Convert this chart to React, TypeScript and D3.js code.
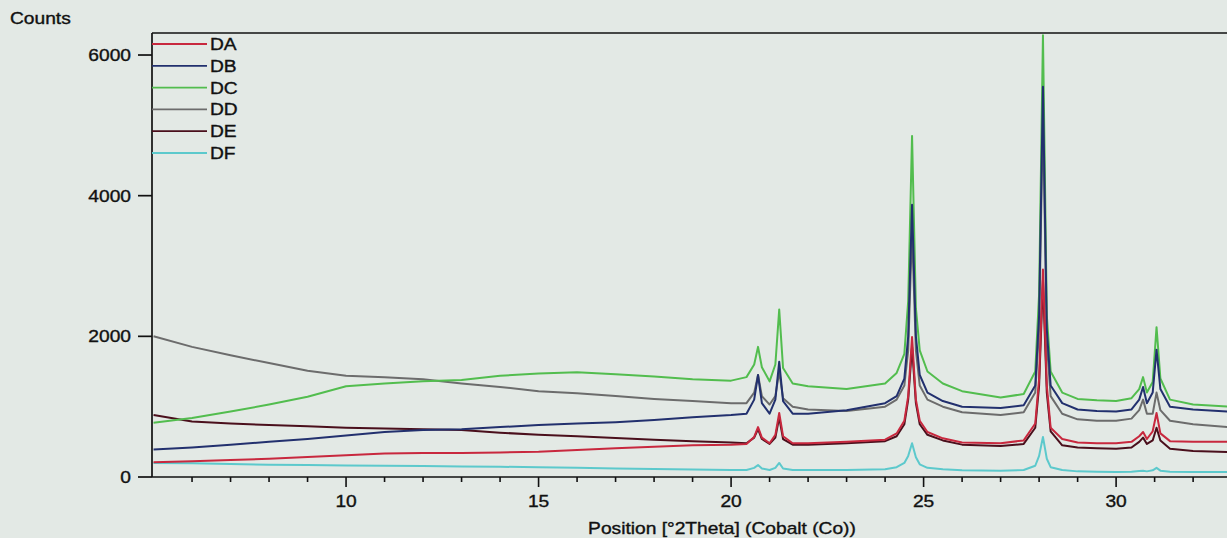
import * as React from 'react';
import * as d3 from 'd3';

// 2-theta positions (deg) shared by all patterns
const twoTheta = [
    5, 6, 7, 8, 9, 10, 11, 12, 13, 14, 15, 16, 17, 18, 19, 20,
    20.4, 20.6, 20.7, 20.8, 21.0, 21.15, 21.25, 21.35, 21.6,
    22, 23, 24,
    24.3, 24.5, 24.6, 24.7, 24.8, 24.9, 25.1, 25.5,
    26, 27,
    27.6, 27.9, 28.0, 28.1, 28.2, 28.3, 28.6,
    29, 29.5, 30,
    30.4, 30.6, 30.7, 30.8, 30.95, 31.05, 31.15, 31.4,
    32, 32.9,
];

const countsDA = [
    210, 225, 240, 260, 285, 310, 335, 340, 340, 350, 360, 385, 410, 430, 450, 460,
    470, 570, 710, 560, 480, 600, 910, 580, 480,
    480, 500, 530,
    620, 800, 1150, 1990, 1100, 800, 640, 550,
    490, 480,
    520, 760, 1400, 2950, 1300, 700, 540,
    490, 480, 480,
    500, 580, 640, 540, 650, 910, 620, 510,
    500, 500,
];

const countsDB = [
    390, 420, 460, 500, 540, 590, 640, 670, 680, 710, 740, 760, 780, 810, 850, 880,
    900, 1100, 1450, 1050, 900, 1100, 1640, 1080, 900,
    900, 950, 1050,
    1150, 1400, 2000, 3870, 2000, 1450, 1200, 1080,
    1000, 980,
    1020, 1300, 2300, 5550, 2100, 1300, 1050,
    960, 940, 930,
    960, 1100, 1280, 1050, 1200, 1810, 1250, 1000,
    960, 930,
];

const countsDC = [
    770, 840, 930, 1030, 1140, 1290, 1330, 1360, 1380, 1440, 1470, 1490, 1460, 1430, 1390, 1370,
    1420, 1600, 1850, 1560, 1360, 1600, 2380, 1550, 1330,
    1290, 1250, 1330,
    1480, 1750, 2500, 4850, 2400, 1800, 1500, 1330,
    1220, 1130,
    1180, 1500, 2600, 6280, 2300, 1500, 1200,
    1110, 1090, 1080,
    1120, 1250, 1420, 1200, 1350, 2130, 1400, 1100,
    1030, 1000,
];

const countsDD = [
    2000, 1850, 1730, 1620, 1510, 1440, 1420, 1390, 1330, 1280, 1220, 1190, 1150, 1110, 1080, 1050,
    1050, 1200, 1450, 1150, 1030, 1150, 1500, 1120, 1000,
    960, 940, 1000,
    1100, 1300, 1800, 3500, 1800, 1300, 1100, 1000,
    920, 880,
    920, 1200, 2100, 5200, 1900, 1150, 900,
    820, 800, 800,
    830, 950, 1100, 900, 900, 1200, 950, 800,
    750, 710,
];

const countsDE = [
    880, 790, 760, 740, 720, 700, 690, 680, 670, 630, 600, 580, 555, 530, 510, 490,
    480, 560, 680, 540, 470, 560, 850, 540, 460,
    460, 480, 510,
    580, 750, 1100, 1850, 1050, 750, 600, 520,
    460, 440,
    470, 700, 1300, 2800, 1200, 650, 450,
    420, 410, 400,
    420, 500, 560, 470, 520, 700, 520, 400,
    370, 355,
];

const countsDF = [
    200, 195, 185, 175, 170, 165, 160, 155, 150, 145, 140, 130, 120, 115, 105, 100,
    100, 130, 170, 120, 100, 130, 200, 120, 100,
    100, 100, 110,
    140, 200, 300, 480, 280, 180, 130, 110,
    95, 90,
    100, 160, 300, 570, 260, 140, 100,
    80, 75, 70,
    75, 85, 90, 80, 95, 130, 90, 75,
    70, 70,
];

const seriesNames = ['DA', 'DB', 'DC', 'DD', 'DE', 'DF'];
const yTickValues = [0, 2000, 4000, 6000];
const xMajorTicks = [10, 15, 20, 25, 30];

const colors: { [k: string]: string } = {
    DA: '#c8283e',
    DB: '#22306e',
    DC: '#52bd4e',
    DD: '#6c6c6c',
    DE: '#4a0f1c',
    DF: '#5cc9cc',
};

const countsByName: { [k: string]: number[] } = {
    DA: countsDA, DB: countsDB, DC: countsDC,
    DD: countsDD, DE: countsDE, DF: countsDF,
};

// back-to-front drawing order
const drawOrder = ['DD', 'DE', 'DF', 'DC', 'DB', 'DA'];

const W = 1227, H = 538;
const plotLeft = 152, plotRight = 1227, plotTop = 33, plotBottom = 477;
const FONT = '"Liberation Sans", Arial, sans-serif';

// the photo is stretched horizontally, so text is widened a bit
const Label = (props: { x: number; y: number; anchor?: string; children: any }) => (
    <g transform={`translate(${props.x},${props.y}) scale(1.2,1)`}>
        <text textAnchor={props.anchor || 'start'} fontFamily={FONT} fontSize={16}
            fill="#111" stroke="#111" strokeWidth={0.35}>
            {props.children}
        </text>
    </g>
);

export default function App() {
    const x = d3.scaleLinear().domain([4.96, 32.88]).range([plotLeft, plotRight]);
    const y = d3.scaleLinear().domain([0, 6313]).range([plotBottom, plotTop]);

    const line = d3.line<number>()
        .x((_, i) => x(twoTheta[i]))
        .y((d) => y(d));

    const minorTicks = d3.range(6, 33).filter((t) => t % 5 !== 0);

    return (
        <svg width={W} height={H} style={{ position: 'absolute', left: 0, top: 0, display: 'block' }}>
            <defs>
                <clipPath id="plotClip">
                    <rect x={plotLeft} y={plotTop} width={plotRight - plotLeft} height={plotBottom - plotTop} />
                </clipPath>
            </defs>
            <rect x={0} y={0} width={W} height={H} fill="#e3e9e5" />

            {/* patterns */}
            <g clipPath="url(#plotClip)">
                {drawOrder.map((name) => (
                    <path key={name} d={line(countsByName[name]) || ''}
                        fill="none" stroke={colors[name]} strokeWidth={2} strokeLinejoin="round" />
                ))}
            </g>

            {/* frame: left, bottom, top */}
            <g stroke="#111" strokeWidth={1.7} fill="none">
                <line x1={plotLeft} x2={plotLeft} y1={plotTop} y2={plotBottom} />
                <line x1={plotLeft} x2={plotRight} y1={plotBottom} y2={plotBottom} />
                <line x1={plotLeft} x2={plotRight} y1={plotTop} y2={plotTop} />
            </g>

            {/* y axis */}
            {yTickValues.map((v) => (
                <g key={v}>
                    <line x1={138} x2={plotLeft} y1={y(v)} y2={y(v)} stroke="#111" strokeWidth={1.7} />
                    <Label x={131} y={y(v) + 6} anchor="end">{v}</Label>
                </g>
            ))}
            <Label x={10} y={24}>Counts</Label>

            {/* x axis */}
            {minorTicks.map((t) => (
                <line key={t} x1={x(t)} x2={x(t)} y1={plotBottom} y2={plotBottom + 5} stroke="#111" strokeWidth={1.6} />
            ))}
            {xMajorTicks.map((t) => (
                <g key={t}>
                    <line x1={x(t)} x2={x(t)} y1={plotBottom} y2={plotBottom + 10} stroke="#111" strokeWidth={1.6} />
                    <Label x={x(t)} y={507} anchor="middle">{t}</Label>
                </g>
            ))}
            <Label x={722} y={534} anchor="middle">Position [°2Theta] (Cobalt (Co))</Label>

            {/* legend */}
            {seriesNames.map((name, i) => {
                const ly = 44 + i * 21.8;
                return (
                    <g key={name}>
                        <line x1={plotLeft} x2={207} y1={ly} y2={ly} stroke={colors[name]} strokeWidth={1.8} />
                        <Label x={210} y={ly + 6}>{name}</Label>
                    </g>
                );
            })}
        </svg>
    );
}
